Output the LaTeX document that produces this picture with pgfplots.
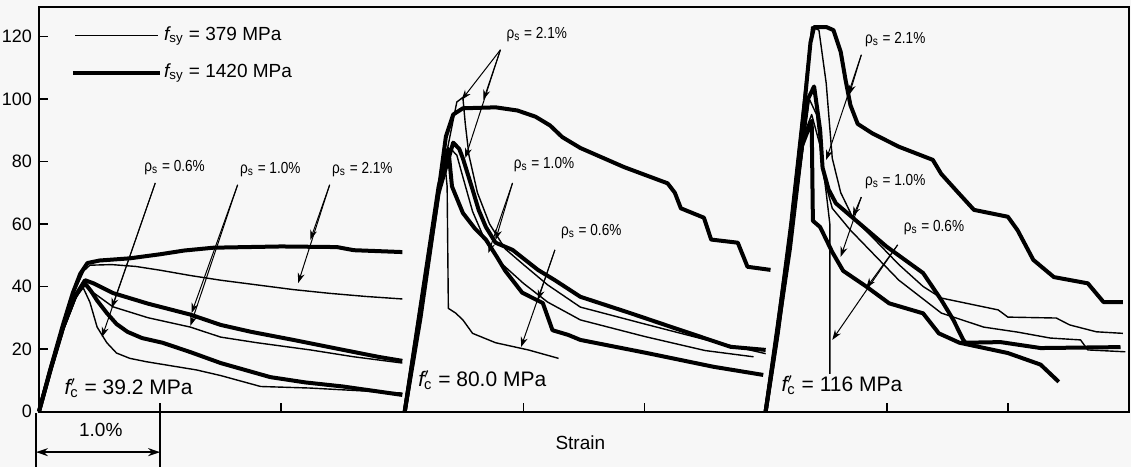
\documentclass[border=0pt]{standalone}
\usepackage{fontspec}
\setmainfont{Liberation Sans}
\usepackage{pgfplots}
\pgfplotsset{compat=1.18}
\usetikzlibrary{arrows.meta}
\tikzset{
  thn/.style={black, line width=0.7pt, line join=round, no markers},
  thk/.style={black, line width=2pt, line join=round, no markers},
  ann/.style={-{Stealth[length=5pt,width=3.5pt]}, line width=0.5pt, black},
  lab/.style={font=\fontsize{8}{9}\selectfont\addfontfeatures{FakeStretch=0.85}, inner sep=0pt},
  big/.style={font=\fontsize{9.5}{10}\selectfont, inner sep=0pt}
}
\begin{document}
\begin{tikzpicture}
\fill[black!3] (-19.5pt,-27.75pt) rectangle (546pt,205.75pt);
\begin{axis}[name=ax, scale only axis, width=545pt, height=202.25pt,
  at={(0,0)}, anchor=south west,
  xmin=0, xmax=9, ymin=0, ymax=129.4,
  xtick={1,2,4,5,7,8}, xticklabels={},
  ytick={0,20,...,120},
  tick align=inside, xtick pos=bottom, ytick pos=left,
  major tick length=4.5pt,
  axis line style={line width=1pt},
  tick style={line width=0.8pt, black},
  ticklabel style={font=\fontsize{9}{10}\selectfont},
  /pgf/number format/assume math mode=true,
  clip=false]

% ---------- group 1: f'c = 39.2 MPa ----------
\addplot[thk] coordinates {(0,0) (0.09,13) (0.2,28) (0.28,38) (0.34,44) (0.4,47.5) (0.5,48.3) (0.75,49) (1.0,50.3) (1.2,51.5) (1.44,52.4) (2.0,52.8) (2.46,52.6) (2.6,51.6) (2.87,51.2) (3.0,51)};
\addplot[thn] coordinates {(0,0) (0.1,14) (0.2,28) (0.3,39) (0.37,45) (0.42,46.8) (0.6,47) (0.8,46.4) (1.0,45.2) (1.25,43.5) (1.5,42) (1.8,40.5) (2.1,39) (2.4,37.8) (2.7,36.8) (3.0,36)};
\addplot[thk] coordinates {(0,0) (0.1,14) (0.2,27) (0.3,37) (0.38,42) (0.45,41) (0.61,37.9) (0.9,34.5) (1.25,31) (1.5,27.7) (1.75,25.5) (2.1,22.9) (2.5,19.8) (2.8,17.5) (3.0,16.2)};
\addplot[thn] coordinates {(0,0) (0.1,13) (0.2,26) (0.3,36) (0.37,40.5) (0.45,38) (0.61,33.5) (0.9,30) (1.25,27) (1.5,23.8) (1.8,22) (2.24,19.7) (2.6,17.5) (3.0,15.5)};
\addplot[thk] coordinates {(0,0) (0.1,14) (0.2,27) (0.3,37) (0.38,41) (0.43,38.5) (0.48,35.5) (0.56,31.5) (0.64,28) (0.73,25.5) (0.85,23.5) (1.02,22) (1.25,19) (1.5,15.5) (1.91,11) (2.2,9.3) (2.51,8) (3.0,5.3)};
\addplot[thn] coordinates {(0,0) (0.1,13) (0.2,26) (0.3,36) (0.36,40) (0.42,35) (0.48,27) (0.56,22) (0.64,18.7) (0.75,17) (0.89,15.9) (1.3,13.3) (1.5,11.5) (1.83,8) (2.24,7.5) (3.0,5.9)};

% ---------- group 2: f'c = 80.0 MPa ----------
\addplot[thk] coordinates {(3.02,0) (3.15,30) (3.28,65) (3.36,88) (3.42,95) (3.5,97) (3.77,97.3) (3.95,96.3) (4.1,94.3) (4.22,91.5) (4.32,87.8) (4.47,84.3) (4.83,78.2) (5.19,73) (5.25,70) (5.3,65) (5.49,62) (5.55,55) (5.77,54) (5.85,46.3) (6.04,45.3)};
\addplot[thn] coordinates {(3.02,0) (3.3,70) (3.45,99) (3.5,100.5) (3.52,92) (3.55,82) (3.62,70) (3.72,60) (3.85,52) (4.0,47) (4.2,40.5) (4.47,33.4) (5.0,28) (5.5,23) (6.0,18.5)};
\addplot[thk] coordinates {(3.02,0) (3.3,70) (3.42,86) (3.47,84) (3.5,81) (3.54,76) (3.58,71) (3.63,64.5) (3.69,59) (3.77,54) (3.91,51.7) (4.12,45.3) (4.26,42) (4.47,36.7) (4.88,31.5) (5.3,26) (5.71,20.7) (6.0,19.7)};
\addplot[thn] coordinates {(3.02,0) (3.3,72) (3.4,84) (3.45,82) (3.5,75) (3.58,64) (3.68,55) (3.8,48) (4.0,41) (4.2,35) (4.47,29.3) (5.0,24) (5.5,19.5) (5.9,17.5)};
\addplot[thk] coordinates {(3.02,0) (3.3,72) (3.38,84) (3.41,72) (3.5,63.5) (3.6,58.5) (3.69,55) (3.78,49.5) (3.85,45) (3.99,38) (4.16,34.7) (4.24,26) (4.37,24.5) (4.47,22.9) (5.02,18.7) (5.57,14.3) (5.98,11.7)};
\addplot[thn] coordinates {(3.02,0) (3.3,72) (3.35,80) (3.37,72) (3.38,33) (3.44,31.5) (3.5,29.3) (3.58,25) (3.77,22) (4.04,19.7) (4.29,17)};

% ---------- group 3: f'c = 116 MPa ----------
\addplot[thk] coordinates {(6.0,0) (6.1,25) (6.2,55) (6.3,90) (6.37,118) (6.4,123) (6.5,123) (6.56,122) (6.62,115) (6.66,106) (6.7,98) (6.76,92) (6.88,89) (7.1,84.7) (7.38,80.5) (7.45,76) (7.59,70) (7.72,64.5) (8.0,62.3) (8.08,58) (8.21,48.5) (8.38,43) (8.66,41) (8.79,35) (8.95,35)};
\addplot[thn] coordinates {(6.0,0) (6.2,60) (6.38,123) (6.44,122) (6.5,105) (6.55,81) (6.62,70) (6.72,62) (6.9,55) (7.1,47) (7.3,40) (7.45,36.3) (7.92,32.5) (8.0,30.2) (8.4,29.9) (8.51,27.7) (8.73,25.5) (8.95,25)};
\addplot[thk] coordinates {(6.0,0) (6.2,55) (6.35,100) (6.4,104) (6.45,90) (6.47,78) (6.52,71) (6.58,66.6) (6.74,61.3) (7.0,52.7) (7.3,44.3) (7.45,35.7) (7.55,29.3) (7.63,23) (7.65,22) (7.94,22.2) (8.27,20.3) (8.93,20.6)};
\addplot[thn] coordinates {(6.0,0) (6.2,57) (6.36,100) (6.42,95) (6.48,75) (6.55,65) (6.7,58) (6.9,50) (7.1,42) (7.3,36) (7.45,31.5) (7.8,27) (8.08,25.4) (8.35,23.5) (8.6,22.9) (8.66,19.7) (8.97,19.1)};
\addplot[thk] coordinates {(6.0,0) (6.2,52) (6.3,85) (6.38,93) (6.39,61) (6.45,59) (6.55,51) (6.64,45) (6.83,40) (7.02,34.6) (7.3,31.4) (7.43,25) (7.6,22) (8.0,18.7) (8.27,15) (8.42,9.5)};
\addplot[thn] coordinates {(6.0,0) (6.2,55) (6.33,90) (6.38,95) (6.45,85) (6.5,70) (6.53,60) (6.53,12)};

% ---------- legend ----------
\draw[thn] (axis cs:0.30,120.2) -- (axis cs:0.98,120.2);
\draw[thk] (axis cs:0.28,108.3) -- (axis cs:1.0,108.3);
\node[big, anchor=west] at (axis cs:1.03,120.2) {{\itshape f}\textsubscript{sy} = 379 MPa};
\node[big, anchor=west] at (axis cs:1.03,108.3) {{\itshape f}\textsubscript{sy} = 1420 MPa};

% ---------- f'c labels ----------
\node[big] at (axis cs:0.74,7.5) {\fontsize{10.5}{11}\selectfont{\itshape f}\rlap{$^{\prime}$}\textsubscript{c} = 39.2 MPa};
\node[big] at (axis cs:3.66,10) {\fontsize{10.5}{11}\selectfont{\itshape f}\rlap{$^{\prime}$}\textsubscript{c} = 80.0 MPa};
\node[big] at (axis cs:6.63,8.5) {\fontsize{10.5}{11}\selectfont{\itshape f}\rlap{$^{\prime}$}\textsubscript{c} = 116 MPa};

% ---------- rho labels and arrows ----------
\node[lab] at (axis cs:1.12,77.9) {ρ\textsubscript{s} = 0.6\%};
\draw[ann] (axis cs:0.96,73.1) -- (axis cs:0.60,33.1);
\draw[ann] (axis cs:0.96,73.1) -- (axis cs:0.52,23.8);
\node[lab] at (axis cs:1.91,77.3) {ρ\textsubscript{s} = 1.0\%};
\draw[ann] (axis cs:1.64,72.5) -- (axis cs:1.26,31.5);
\draw[ann] (axis cs:1.64,72.5) -- (axis cs:1.25,27.4);
\node[lab] at (axis cs:2.67,77.3) {ρ\textsubscript{s} = 2.1\%};
\draw[ann] (axis cs:2.40,72.5) -- (axis cs:2.24,54.9);
\draw[ann] (axis cs:2.40,72.5) -- (axis cs:2.14,41.1);

\node[lab] at (axis cs:4.11,120.5) {ρ\textsubscript{s} = 2.1\%};
\draw[ann] (axis cs:3.81,115.7) -- (axis cs:3.49,99.7);
\draw[ann] (axis cs:3.81,115.7) -- (axis cs:3.67,99.7);
\draw[ann] (axis cs:3.81,115.7) -- (axis cs:3.52,81.1);
\node[lab] at (axis cs:4.17,78.9) {ρ\textsubscript{s} = 1.0\%};
\draw[ann] (axis cs:3.91,73.1) -- (axis cs:3.77,54.9);
\draw[ann] (axis cs:3.91,73.1) -- (axis cs:3.71,50.7);
\node[lab] at (axis cs:4.56,57.4) {ρ\textsubscript{s} = 0.6\%};
\draw[ann] (axis cs:4.26,51.7) -- (axis cs:4.12,35.7);
\draw[ann] (axis cs:4.26,51.7) -- (axis cs:3.98,20.6);

\node[lab] at (axis cs:7.07,118.9) {ρ\textsubscript{s} = 2.1\%};
\draw[ann] (axis cs:6.79,114.1) -- (axis cs:6.69,101.3);
\draw[ann] (axis cs:6.79,114.1) -- (axis cs:6.50,80.5);
\node[lab] at (axis cs:7.07,73.4) {ρ\textsubscript{s} = 1.0\%};
\draw[ann] (axis cs:6.79,68.6) -- (axis cs:6.72,62.3);
\draw[ann] (axis cs:6.79,68.6) -- (axis cs:6.62,49.5);
\node[lab] at (axis cs:7.39,58.7) {ρ\textsubscript{s} = 0.6\%};
\draw[ann] (axis cs:7.09,53.3) -- (axis cs:6.83,39.5);
\draw[ann] (axis cs:7.09,53.3) -- (axis cs:6.55,22.9);

% ---------- scale bar and axis label ----------
\draw[line width=0.8pt] (axis cs:-0.025,-0.6) -- (axis cs:-0.025,-17.8);
\draw[line width=0.8pt] (axis cs:1,-0.6) -- (axis cs:1,-17.8);
\draw[{Stealth[length=6pt,width=4pt]}-{Stealth[length=6pt,width=4pt]}, line width=0.8pt] (axis cs:-0.025,-13) -- (axis cs:1,-13);
\node[big] at (axis cs:0.51,-5.9) {1.0\%};
\node[big] at (axis cs:4.47,-10) {Strain};
\end{axis}
\pgfresetboundingbox
\path[use as bounding box] (-19.5pt,-27.75pt) rectangle (546pt,205.75pt);
\end{tikzpicture}
\end{document}
